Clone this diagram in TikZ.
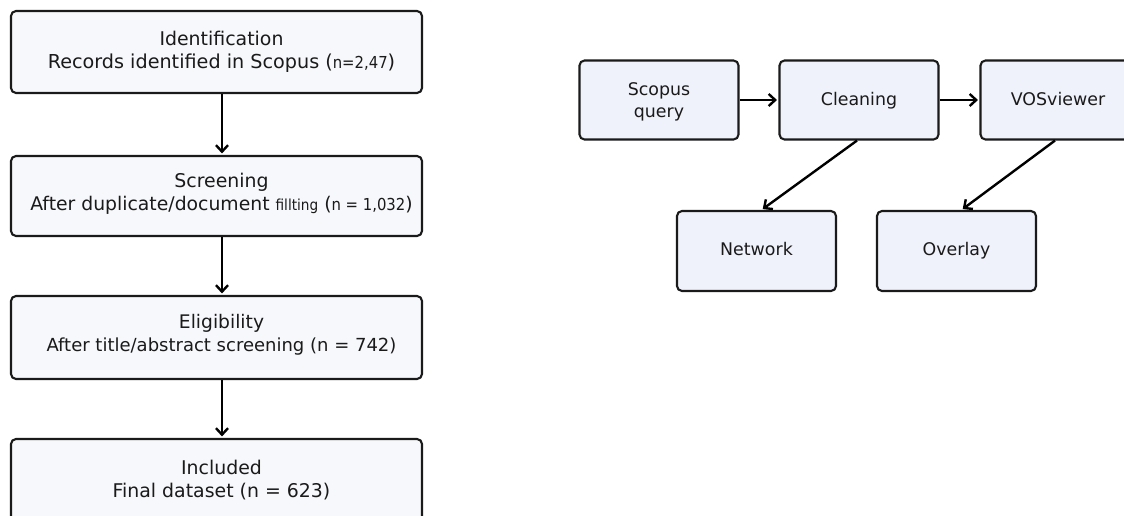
\documentclass[tikz,border=0pt]{standalone}
\usepackage{fontspec}
\setmainfont{DejaVu Sans}
\newfontfamily\condfont{DejaVu Sans Condensed}
\usetikzlibrary{arrows.meta}
\definecolor{ink}{HTML}{1A1A1A}
\definecolor{paleL}{HTML}{F7F8FB}
\definecolor{paleR}{HTML}{EFF2FB}
\tikzset{
  box/.style={draw=ink,line width=2.1pt,rounded corners=5pt,align=center,text=ink,inner sep=0pt},
  flowbox/.style={box,fill=paleL,minimum width=411pt,font=\fontsize{18.9pt}{23.5pt}\selectfont},
  procbox/.style={box,fill=paleR,minimum width=159pt,minimum height=79pt,font=\fontsize{17.4pt}{22pt}\selectfont},
  arr/.style={draw=black,line width=2.4pt,shorten >=1.5pt,-{Straight Barb[length=6.5pt,width=12pt,line width=2.4pt]}}
}
\newcommand{\smalltxt}[1]{{\condfont\fontsize{16.5pt}{23.5pt}\selectfont #1}}
\newcommand{\fillt}[1]{{\condfont\fontsize{15.2pt}{23.5pt}\selectfont #1}}
\newcommand{\nudge}{\hspace*{10pt}}
\newcommand{\liftby}[1]{\rule[-#1]{0pt}{#1}}
\begin{document}
\begin{tikzpicture}[x=1pt,y=-1pt]
\useasboundingbox (0,0) rectangle (1124,516);
\clip (0,0) rectangle (1124,516);
\fill[white] (0,0) rectangle (1124,516);
\node[flowbox,minimum height=82pt] (ident) at (216.5,52) {\nudge Identification\\\nudge{\fontsize{19.2pt}{23.5pt}\selectfont Records identified in Scopus (\smalltxt{n=2,47})}};
\node[flowbox,minimum height=80pt] (screen) at (216.5,196) {\nudge Screening\\\nudge{\fontsize{18.8pt}{23.5pt}\selectfont After duplicate/document \fillt{fillting} (\smalltxt{n = 1,032})}\liftby{8pt}};
\node[flowbox,minimum height=83pt] (elig) at (216.5,337.5) {\nudge{\fontsize{18.7pt}{23pt}\selectfont Eligibility}\\\nudge{\fontsize{18pt}{23pt}\selectfont After title/abstract screening (n = 742)}\liftby{9pt}};
\node[flowbox,minimum height=82pt] (incl) at (216.5,480) {\nudge Included\\\nudge Final dataset (n = 623)};
\draw[arr] ([xshift=5.5pt]ident.south) -- ([xshift=5.5pt]screen.north);
\draw[arr] ([xshift=5.5pt]screen.south) -- ([xshift=5.5pt]elig.north);
\draw[arr] ([xshift=5.5pt]elig.south) -- ([xshift=5.5pt]incl.north);
\node[procbox] (scopus) at (659,100) {\rule{0pt}{16.5pt}Scopus\\query};
\node[procbox] (clean) at (859,100) {\rule[-6.75pt]{0pt}{24.5pt}Cleaning};
\node[procbox] (vos) at (1060,100) {\rule[-6.75pt]{0pt}{24.5pt}VOSviewer\hspace*{4pt}};
\node[procbox,minimum height=80pt] (net) at (756.5,251) {\strut Network};
\node[procbox,minimum height=80pt] (over) at (956.5,251) {\strut Overlay};
\draw[arr] (scopus.east) -- (clean.west);
\draw[arr] (clean.east) -- (vos.west);
\draw[arr] ([xshift=-2pt]clean.south) -- ([xshift=5pt]net.north);
\draw[arr] ([xshift=-5pt]vos.south) -- ([xshift=5pt]over.north);
\end{tikzpicture}
\end{document}
